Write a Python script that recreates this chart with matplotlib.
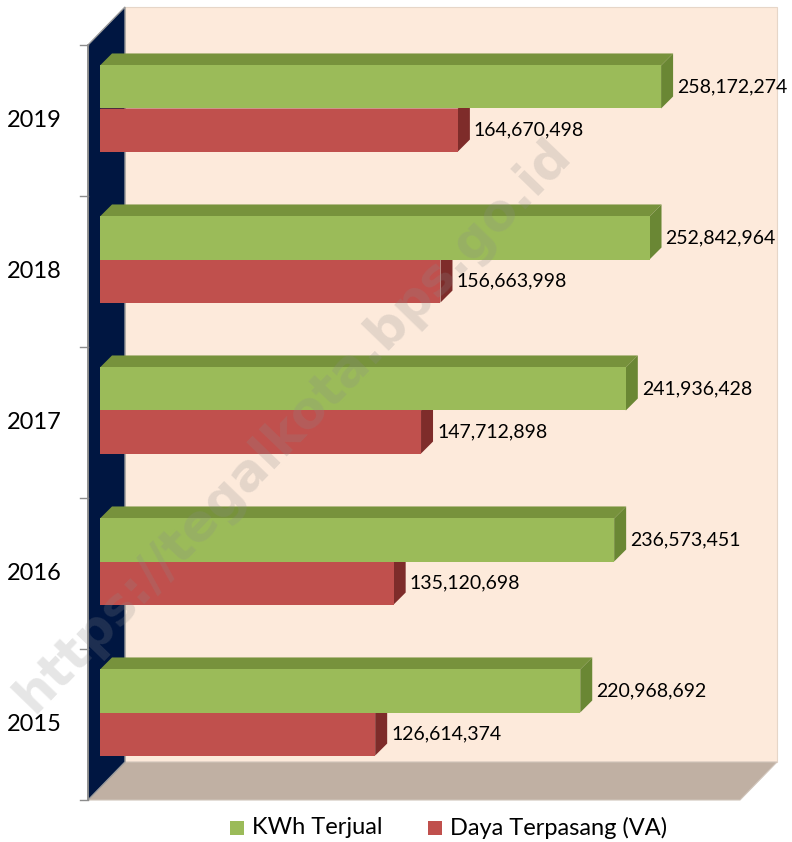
import matplotlib
matplotlib.use("Agg")
import matplotlib.pyplot as plt
from matplotlib.patches import Polygon, Rectangle

years = ["2015", "2016", "2017", "2018", "2019"]
kwh_terjual = [220968692, 236573451, 241936428, 252842964, 258172274]
daya_terpasang = [126614374, 135120698, 147712898, 156663998, 164670498]
series_names = ["KWh Terjual", "Daya Terpasang (VA)"]

W, H = 792, 842
fig = plt.figure(figsize=(W / 100, H / 100), dpi=100)
fig.patch.set_facecolor("white")

# front plane of the 3D box (pixels): x 88..740, y(top) 45..800
L, R, T, B = 88, 740, 45, 800
ax = fig.add_axes([L / W, 1 - B / H, (R - L) / W, (B - T) / H])
XMAX = 300e6
ax.set_xlim(0, XMAX)
ax.set_ylim(-0.5, len(years) - 0.5)
ax.axis("off")

pxx = XMAX / (R - L)             # data units per pixel (x)
pxy = len(years) / (B - T)       # data units per pixel (y)

# depth offsets (pixels)
DX, DY = 37, 38
def off(x, y, dpx, dpy):
    return (x + dpx * pxx, y + dpy * pxy)

y0, y1 = -0.5, len(years) - 0.5
FONT = "Lato"

# back wall
ax.add_patch(Polygon([off(0, y0, DX, DY), off(XMAX, y0, DX, DY),
                      off(XMAX, y1, DX, DY), off(0, y1, DX, DY)],
                     closed=True, facecolor="#FDEADB", edgecolor="#E6D6C8",
                     linewidth=0.8, clip_on=False, zorder=1))
# floor
ax.add_patch(Polygon([(0, y0), (XMAX, y0), off(XMAX, y0, DX, DY), off(0, y0, DX, DY)],
                     closed=True, facecolor="#C0B0A3", edgecolor="#D0C4BA",
                     linewidth=0.8, clip_on=False, zorder=2))
# left side wall
ax.add_patch(Polygon([(0, y0), (0, y1), off(0, y1, DX, DY), off(0, y0, DX, DY)],
                     closed=True, facecolor="#001641", edgecolor="#9A9A9A",
                     linewidth=1.0, clip_on=False, zorder=3))

# axis line and ticks
ax.plot([0, 0], [y0, y1], color="#8C8C8C", lw=1.2, clip_on=False, zorder=4)
for k in range(len(years) + 1):
    yy = y0 + k
    ax.plot([-8 * pxx, 0], [yy, yy], color="#8C8C8C", lw=1.0, clip_on=False, zorder=4)

# bars
F1, F2 = 12, 24      # bar front/back depth (px)
BH = 0.285
colors = {
    "g": ("#9BBB59", "#77923C", "#6A8734"),
    "r": ("#C0504D", "#A0403D", "#7E2C2A"),
}

def draw_bar(yc_bottom, val, key, z):
    front, top, side = colors[key]
    yb = yc_bottom
    yt = yc_bottom + BH
    # top face
    ax.add_patch(Polygon([off(0, yt, F1, F1), off(val, yt, F1, F1),
                          off(val, yt, F2, F2), off(0, yt, F2, F2)],
                         closed=True, facecolor=top, edgecolor="none",
                         clip_on=False, zorder=z))
    # side face
    ax.add_patch(Polygon([off(val, yb, F1, F1), off(val, yt, F1, F1),
                          off(val, yt, F2, F2), off(val, yb, F2, F2)],
                         closed=True, facecolor=side, edgecolor="none",
                         clip_on=False, zorder=z))
    # front face
    x0, yf = off(0, yb, F1, F1)
    ax.barh([yf], [val], left=x0, height=BH, align="edge", color=front,
            edgecolor="none", clip_on=False, zorder=z + 0.1)
    # value label
    lx, ly = off(val, yb + BH / 2, F2 + 4, F1)
    ax.text(lx, ly, f"{val:,}", ha="left", va="center", fontsize=14,
            family=FONT, color="black", zorder=20, clip_on=False)

for i, y in enumerate(years):
    z = 5 + (len(years) - i) * 0.5
    draw_bar(i - BH, daya_terpasang[i], "r", z)
    draw_bar(i, kwh_terjual[i], "g", z + 0.2)
    ax.text(-26 * pxx, i, y, ha="right", va="center", fontsize=17,
            family=FONT, color="black", clip_on=False)

# legend
for name, col, xs in [(series_names[0], "#9BBB59", 230), (series_names[1], "#C0504D", 428)]:
    fig.patches.append(Rectangle((xs / W, 1 - 835 / H), 14 / W, 14 / H,
                                 transform=fig.transFigure, facecolor=col,
                                 edgecolor="none"))
    fig.text((xs + 22) / W, 1 - 828 / H, name, ha="left", va="center",
             fontsize=17, family=FONT, color="black")

# watermark
fig.text(293 / W, 1 - 425 / H, "https://tegalkota.bps.go.id", rotation=46,
         ha="center", va="center", fontsize=37, fontweight="bold",
         family="DejaVu Sans", color="#8C8C8C", alpha=0.22, zorder=30)

fig.savefig("out.png", dpi=100)
